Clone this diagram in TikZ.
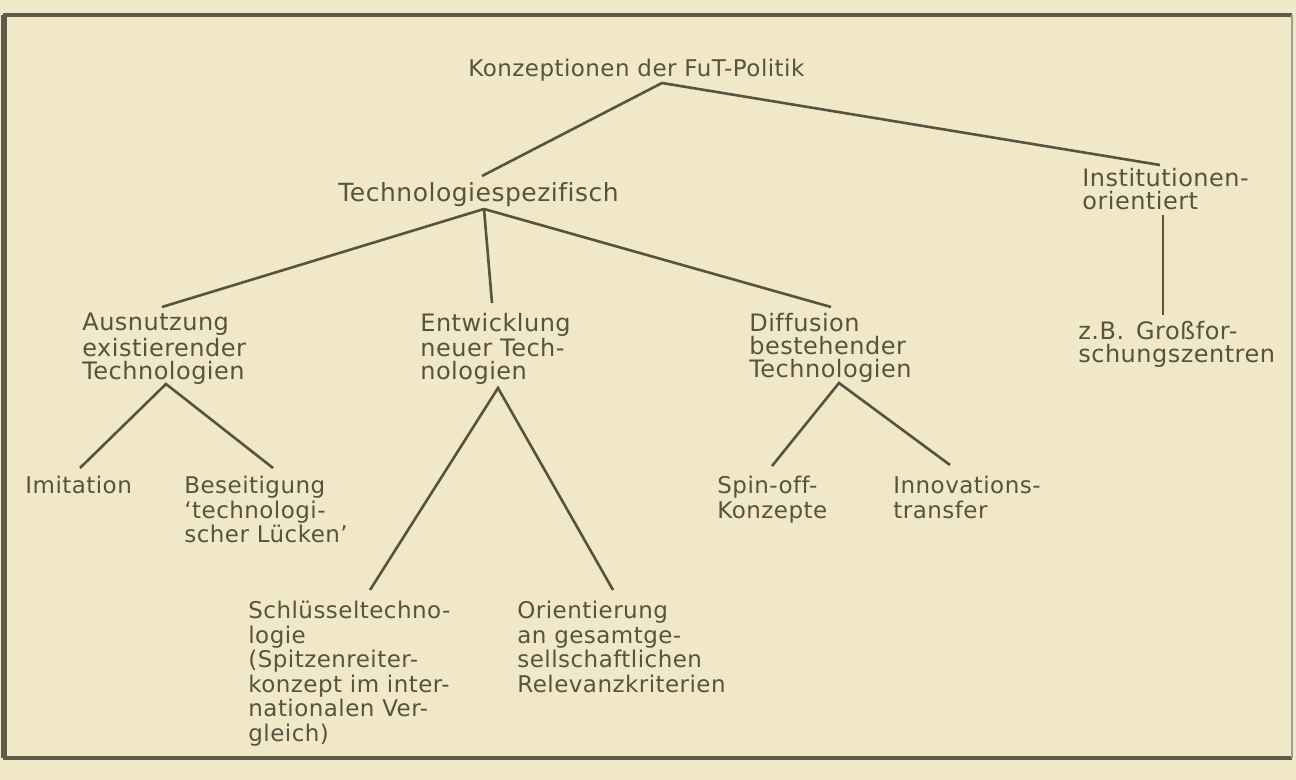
\documentclass[tikz,border=0pt]{standalone}
\usepackage{fontspec}
\setmainfont{DejaVu Sans}[LetterSpace=2,Ligatures={TeX,NoCommon}]
\usetikzlibrary{positioning}
\definecolor{paper}{HTML}{F0E8C7}
\definecolor{ink}{HTML}{57533F}
\definecolor{rim}{HTML}{5E5A4A}

\begin{document}
\begin{tikzpicture}[x=0.5pt,y=-0.5pt,
  concept/.style={anchor=north west,inner sep=0pt,align=left,text=ink,
    font=\fontsize{11.5}{12.25}\selectfont},
  upper/.style={concept,font=\fontsize{12}{11.5}\selectfont},
  branch/.style={draw=ink,line width=1.3pt},
]
  \fill[paper] (0,0) rectangle (1296,780);
  \useasboundingbox (0,0) rectangle (1296,780);
  \draw[rim,line width=1.6pt] (1292,15) -- (5,15) -- (5,758) -- (1292,758);
  \draw[rim!60,line width=0.6pt] (1292,15) -- (1292,758);
  \draw[rim,line width=1pt] (1.5,15) -- (1.5,758);

  % labels
  \node[concept] (root) at (468,59) {Konzeptionen der FuT-Politik};
  \node[upper,font=\fontsize{12.5}{12}\selectfont] (tech) at (338,182) {Technologiespezifisch};
  \node[upper] (inst) at (1082,168) {Institutionen-\\orientiert};
  \node[upper] (zb) at (1078,321) {z.B.\hspace{0.5em}Großfor-\\schungszentren};
  \node[upper] (ausn) at (82,313) {Ausnutzung\\existierender\\Technologien};
  \node[upper] (entw) at (420,313) {Entwicklung\\neuer Tech-\\nologien};
  \node[upper] (diff) at (749,313) {Diffusion\\bestehender\\Technologien};
  \node[concept] (imit) at (25,476) {Imitation};
  \node[concept] (bese) at (184,476) {Beseitigung\\`technologi-\\scher Lücken'};
  \node[concept] (spin) at (717,476) {Spin-off-\\Konzepte};
  \node[concept] (inno) at (893,476) {Innovations-\\transfer};
  \node[concept] (schl) at (248,601) {Schlüsseltechno-\\logie\\(Spitzenreiter-\\konzept im inter-\\nationalen Ver-\\gleich)};
  \node[concept] (orie) at (517,601) {Orientierung\\an gesamtge-\\sellschaftlichen\\Relevanzkriterien};

  % line ends
  \coordinate (root-b) at (662,83);
  \coordinate (tech-t) at (482,176);
  \coordinate (tech-b) at (484,209);
  \coordinate (inst-t) at (1160,165);
  \coordinate (inst-b) at (1163,215);
  \coordinate (zb-t) at (1163,315);
  \coordinate (ausn-t) at (162,307);
  \coordinate (ausn-b) at (166,384);
  \coordinate (entw-t) at (492,303);
  \coordinate (entw-b) at (498,388);
  \coordinate (diff-t) at (831,307);
  \coordinate (diff-b) at (839,383);
  \coordinate (imit-t) at (80,468);
  \coordinate (bese-t) at (273,468);
  \coordinate (schl-t) at (370,590);
  \coordinate (orie-t) at (613,590);
  \coordinate (spin-t) at (772,466);
  \coordinate (inno-t) at (950,465);

  \draw[branch] (tech-t) -- (root-b) -- (inst-t);
  \draw[branch] (inst-b) -- (zb-t);
  \draw[branch] (tech-b) -- (ausn-t);
  \draw[branch] (tech-b) -- (entw-t);
  \draw[branch] (tech-b) -- (diff-t);
  \draw[branch] (imit-t) -- (ausn-b) -- (bese-t);
  \draw[branch] (schl-t) -- (entw-b) -- (orie-t);
  \draw[branch] (spin-t) -- (diff-b) -- (inno-t);
\end{tikzpicture}
\end{document}
